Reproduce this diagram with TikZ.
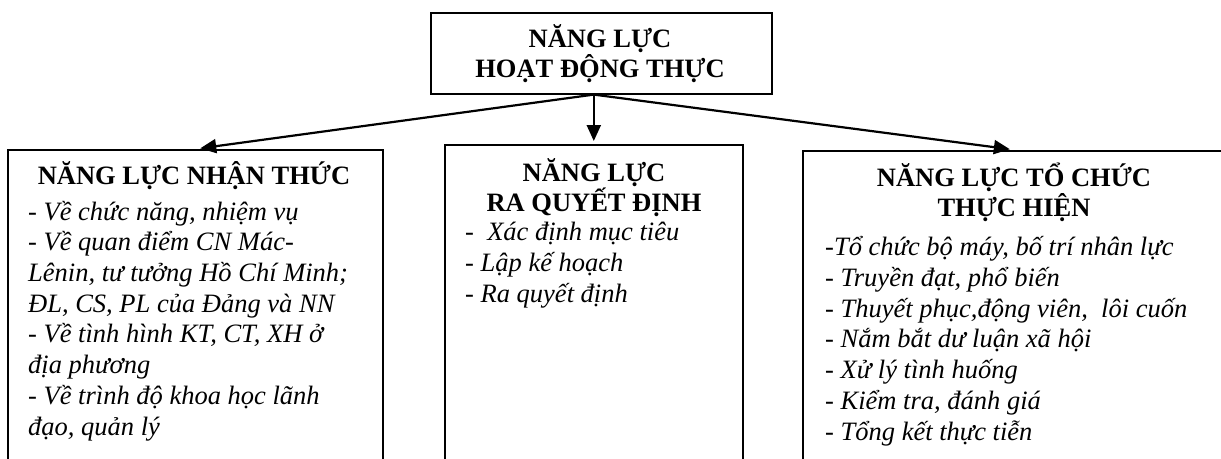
\documentclass[tikz,border=0pt]{standalone}
\usepackage{fontspec}
\setmainfont{Liberation Serif}
\usetikzlibrary{arrows.meta,calc}
\begin{document}
\begin{tikzpicture}[x=1pt,y=-1pt,
  box/.style={draw,line width=1.6pt,anchor=north west,inner sep=0pt},
  head/.style={font=\fontsize{26.5}{30}\selectfont\bfseries,align=center,anchor=base,inner sep=0pt},
  items/.style={font=\fontsize{26.5}{30.7}\selectfont\itshape,align=left,anchor=base west,inner sep=0pt},
  conn/.style={line width=2.2pt,-{Triangle[length=16pt,width=14pt]}}]
\useasboundingbox (0,0) rectangle (1221,458);
\clip (0,0) rectangle (1221,458);
% boxes
\node[box,minimum width=341pt,minimum height=81pt] (top) at (430,12) {};
\node[box,minimum width=375pt,minimum height=340pt] (left) at (7,149) {};
\node[box,minimum width=298pt,minimum height=340pt] (mid) at (444,144) {};
\node[box,minimum width=426pt,minimum height=340pt] (right) at (802,150) {};
% texts (anchor = baseline of the last line)
\node[head] (toptext) at (600,77) {NĂNG LỰC\\HOẠT ĐỘNG THỰC};
\node[head] (lefthead) at (194,184) {NĂNG LỰC NHẬN THỨC};
\node[items] (leftitems) at (28,435) {- Về chức năng, nhiệm vụ\\- Về quan điểm CN Mác-\\Lênin, tư tưởng Hồ Chí Minh;\\ĐL, CS, PL của Đảng và NN\\- Về tình hình KT, CT, XH ở\\địa phương\\- Về trình độ khoa học lãnh\\đạo, quản lý};
\node[head] (midhead) at (594,211) {NĂNG LỰC\\RA QUYẾT ĐỊNH};
\node[items] (miditems) at (465,302) {-\ \ Xác định mục tiêu\\- Lập kế hoạch\\- Ra quyết định};
\node[head] (righthead) at (1014,216) {NĂNG LỰC TỔ CHỨC\\THỰC HIỆN};
\node[items] (rightitems) at (825,440) {-Tổ chức bộ máy, bố trí nhân lực\\- Truyền đạt, phổ biến\\- Thuyết phục,động viên,\ \ lôi cuốn\\- Nắm bắt dư luận xã hội\\- Xử lý tình huống\\- Kiểm tra, đánh giá\\- Tổng kết thực tiễn};
% connectors
\coordinate (src) at (mid.north |- top.south);
\draw[conn,shorten >=5pt] (src) -- (left.north);
\draw[conn,shorten >=3pt] (src) -- (mid.north);
\draw[conn,shorten >=6pt] (src) -- (right.north);
\end{tikzpicture}
\end{document}
